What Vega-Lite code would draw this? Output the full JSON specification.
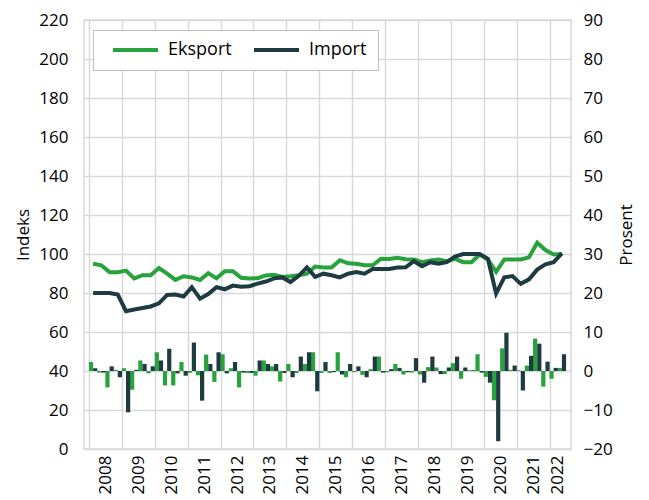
{
  "$schema": "https://vega.github.io/schema/vega-lite/v6.json",
  "width": 487,
  "height": 429,
  "autosize": {"type": "none"},
  "padding": {"left": 84, "top": 20, "right": 78, "bottom": 51},
  "config": {
    "font": "Open Sans",
    "view": {"stroke": "#d9d9d9", "strokeWidth": 1.5},
    "axis": {
      "labelFont": "Open Sans",
      "labelFontSize": 17,
      "labelColor": "#000000",
      "labelOverlap": false,
      "titleFont": "Open Sans",
      "titleFontSize": 17,
      "titleFontWeight": "normal",
      "titleColor": "#000000",
      "gridColor": "#d9d9d9",
      "gridWidth": 1.5,
      "domain": false,
      "ticks": false
    }
  },
  "data": {
    "values": [
      {"kvartal": "2008K1", "t": 2008.125, "eksport": 95.0, "import": 80.0, "eksport_endring": 2.3, "import_endring": 0.7},
      {"kvartal": "2008K2", "t": 2008.375, "eksport": 94.2, "import": 80.0, "eksport_endring": -0.4, "import_endring": -0.4},
      {"kvartal": "2008K3", "t": 2008.625, "eksport": 90.7, "import": 80.0, "eksport_endring": -4.2, "import_endring": 1.2},
      {"kvartal": "2008K4", "t": 2008.875, "eksport": 90.7, "import": 79.2, "eksport_endring": 0.3, "import_endring": -1.6},
      {"kvartal": "2009K1", "t": 2009.125, "eksport": 91.5, "import": 70.7, "eksport_endring": 0.7, "import_endring": -10.6},
      {"kvartal": "2009K2", "t": 2009.375, "eksport": 87.5, "import": 71.5, "eksport_endring": -4.8, "import_endring": 0.3},
      {"kvartal": "2009K3", "t": 2009.625, "eksport": 89.1, "import": 72.3, "eksport_endring": 2.7, "import_endring": 1.8},
      {"kvartal": "2009K4", "t": 2009.875, "eksport": 89.1, "import": 73.1, "eksport_endring": -0.6, "import_endring": 1.2},
      {"kvartal": "2010K1", "t": 2010.125, "eksport": 92.8, "import": 74.7, "eksport_endring": 4.8, "import_endring": 2.7},
      {"kvartal": "2010K2", "t": 2010.375, "eksport": 89.9, "import": 79.0, "eksport_endring": -3.7, "import_endring": 5.7},
      {"kvartal": "2010K3", "t": 2010.625, "eksport": 86.7, "import": 79.2, "eksport_endring": -3.7, "import_endring": -0.6},
      {"kvartal": "2010K4", "t": 2010.875, "eksport": 88.6, "import": 78.2, "eksport_endring": 2.3, "import_endring": -1.2},
      {"kvartal": "2011K1", "t": 2011.125, "eksport": 88.0, "import": 83.0, "eksport_endring": -0.5, "import_endring": 7.3},
      {"kvartal": "2011K2", "t": 2011.375, "eksport": 86.7, "import": 77.1, "eksport_endring": -1.1, "import_endring": -7.6},
      {"kvartal": "2011K3", "t": 2011.625, "eksport": 90.2, "import": 79.5, "eksport_endring": 4.2, "import_endring": 1.8},
      {"kvartal": "2011K4", "t": 2011.875, "eksport": 87.5, "import": 83.0, "eksport_endring": -2.8, "import_endring": 4.8},
      {"kvartal": "2012K1", "t": 2012.125, "eksport": 91.2, "import": 81.9, "eksport_endring": 4.3, "import_endring": -0.6},
      {"kvartal": "2012K2", "t": 2012.375, "eksport": 91.2, "import": 83.8, "eksport_endring": 0.7, "import_endring": 2.3},
      {"kvartal": "2012K3", "t": 2012.625, "eksport": 87.8, "import": 83.2, "eksport_endring": -4.2, "import_endring": -0.4},
      {"kvartal": "2012K4", "t": 2012.875, "eksport": 87.5, "import": 83.5, "eksport_endring": -0.5, "import_endring": -0.5},
      {"kvartal": "2013K1", "t": 2013.125, "eksport": 87.6, "import": 84.8, "eksport_endring": -1.2, "import_endring": 2.7},
      {"kvartal": "2013K2", "t": 2013.375, "eksport": 89.0, "import": 85.9, "eksport_endring": 2.7, "import_endring": 1.8},
      {"kvartal": "2013K3", "t": 2013.625, "eksport": 89.4, "import": 87.5, "eksport_endring": 1.2, "import_endring": 1.8},
      {"kvartal": "2013K4", "t": 2013.875, "eksport": 88.2, "import": 88.0, "eksport_endring": -2.7, "import_endring": -0.5},
      {"kvartal": "2014K1", "t": 2014.125, "eksport": 88.6, "import": 85.6, "eksport_endring": 1.8, "import_endring": -1.6},
      {"kvartal": "2014K2", "t": 2014.375, "eksport": 89.1, "import": 88.8, "eksport_endring": -0.5, "import_endring": 3.7},
      {"kvartal": "2014K3", "t": 2014.625, "eksport": 89.9, "import": 93.1, "eksport_endring": 1.8, "import_endring": 4.8},
      {"kvartal": "2014K4", "t": 2014.875, "eksport": 93.6, "import": 88.3, "eksport_endring": 4.8, "import_endring": -5.2},
      {"kvartal": "2015K1", "t": 2015.125, "eksport": 93.1, "import": 89.9, "eksport_endring": -0.5, "import_endring": 2.3},
      {"kvartal": "2015K2", "t": 2015.375, "eksport": 93.1, "import": 89.1, "eksport_endring": -0.5, "import_endring": -0.3},
      {"kvartal": "2015K3", "t": 2015.625, "eksport": 96.8, "import": 88.0, "eksport_endring": 4.8, "import_endring": -0.9},
      {"kvartal": "2015K4", "t": 2015.875, "eksport": 95.2, "import": 89.9, "eksport_endring": -1.6, "import_endring": 1.8},
      {"kvartal": "2016K1", "t": 2016.125, "eksport": 95.0, "import": 90.7, "eksport_endring": -0.3, "import_endring": 1.2},
      {"kvartal": "2016K2", "t": 2016.375, "eksport": 94.2, "import": 89.9, "eksport_endring": -1.0, "import_endring": -1.6},
      {"kvartal": "2016K3", "t": 2016.625, "eksport": 94.2, "import": 92.3, "eksport_endring": 0.5, "import_endring": 3.7},
      {"kvartal": "2016K4", "t": 2016.875, "eksport": 97.6, "import": 92.3, "eksport_endring": 3.7, "import_endring": -0.4},
      {"kvartal": "2017K1", "t": 2017.125, "eksport": 97.4, "import": 92.3, "eksport_endring": -0.3, "import_endring": 0.5},
      {"kvartal": "2017K2", "t": 2017.375, "eksport": 98.1, "import": 93.1, "eksport_endring": 1.8, "import_endring": 0.8},
      {"kvartal": "2017K3", "t": 2017.625, "eksport": 97.3, "import": 93.2, "eksport_endring": -0.9, "import_endring": -0.3},
      {"kvartal": "2017K4", "t": 2017.875, "eksport": 97.2, "import": 96.3, "eksport_endring": -0.4, "import_endring": 3.3},
      {"kvartal": "2018K1", "t": 2018.125, "eksport": 95.8, "import": 93.7, "eksport_endring": -0.9, "import_endring": -3.0},
      {"kvartal": "2018K2", "t": 2018.375, "eksport": 96.7, "import": 95.8, "eksport_endring": 1.0, "import_endring": 3.7},
      {"kvartal": "2018K3", "t": 2018.625, "eksport": 97.2, "import": 95.0, "eksport_endring": 0.9, "import_endring": -0.8},
      {"kvartal": "2018K4", "t": 2018.875, "eksport": 96.3, "import": 95.8, "eksport_endring": -0.8, "import_endring": 0.9},
      {"kvartal": "2019K1", "t": 2019.125, "eksport": 97.5, "import": 98.7, "eksport_endring": 2.0, "import_endring": 3.7},
      {"kvartal": "2019K2", "t": 2019.375, "eksport": 95.8, "import": 100.0, "eksport_endring": -2.0, "import_endring": 0.9},
      {"kvartal": "2019K3", "t": 2019.625, "eksport": 95.8, "import": 100.0, "eksport_endring": 0.2, "import_endring": 0.2},
      {"kvartal": "2019K4", "t": 2019.875, "eksport": 99.7, "import": 100.0, "eksport_endring": 4.3, "import_endring": -0.4},
      {"kvartal": "2020K1", "t": 2020.125, "eksport": 97.2, "import": 97.5, "eksport_endring": -1.5, "import_endring": -3.0},
      {"kvartal": "2020K2", "t": 2020.375, "eksport": 90.8, "import": 79.7, "eksport_endring": -7.5, "import_endring": -18.0},
      {"kvartal": "2020K3", "t": 2020.625, "eksport": 97.2, "import": 88.0, "eksport_endring": 5.8, "import_endring": 9.8},
      {"kvartal": "2020K4", "t": 2020.875, "eksport": 97.2, "import": 88.7, "eksport_endring": 0.3, "import_endring": 1.4},
      {"kvartal": "2021K1", "t": 2021.125, "eksport": 97.2, "import": 84.7, "eksport_endring": 0.2, "import_endring": -5.0},
      {"kvartal": "2021K2", "t": 2021.375, "eksport": 98.3, "import": 87.0, "eksport_endring": 1.4, "import_endring": 3.9},
      {"kvartal": "2021K3", "t": 2021.625, "eksport": 105.8, "import": 92.0, "eksport_endring": 8.3, "import_endring": 7.0},
      {"kvartal": "2021K4", "t": 2021.875, "eksport": 102.0, "import": 94.7, "eksport_endring": -4.0, "import_endring": 2.4},
      {"kvartal": "2022K1", "t": 2022.125, "eksport": 99.7, "import": 95.8, "eksport_endring": -2.0, "import_endring": 0.8},
      {"kvartal": "2022K2", "t": 2022.375, "eksport": 100.0, "import": 100.3, "eksport_endring": 0.8, "import_endring": 4.3}
    ]
  },
  "layer": [
    {
      "encoding": {
        "x": {
          "field": "t",
          "type": "quantitative",
          "scale": {"domain": [2008, 2022.5], "nice": false, "zero": false},
          "axis": {
            "orient": "bottom",
            "values": [2008, 2009, 2010, 2011, 2012, 2013, 2014, 2015, 2016, 2017, 2018, 2019, 2020, 2021, 2022],
            "grid": true,
            "labels": false,
            "title": null
          }
        }
      },
      "layer": [
        {
          "mark": {"type": "bar", "width": 4.2, "xOffset": -2.1, "color": "#27a23c"},
          "encoding": {
            "y": {
              "field": "eksport_endring",
              "type": "quantitative",
              "scale": {"domain": [-20, 90], "nice": false},
              "axis": {
                "orient": "right",
                "values": [-20, -10, 0, 10, 20, 30, 40, 50, 60, 70, 80, 90],
                "labelOverlap": false,
                "grid": false,
                "title": "Prosent",
                "titleAngle": -90,
                "titleBaseline": "top",
                "labelPadding": 12,
                "titlePadding": 6
              }
            }
          }
        },
        {
          "mark": {"type": "bar", "width": 4.2, "xOffset": 2.1, "color": "#1f3b42"},
          "encoding": {
            "y": {
              "field": "import_endring",
              "type": "quantitative",
              "scale": {"domain": [-20, 90], "nice": false},
              "axis": {
                "orient": "right",
                "values": [-20, -10, 0, 10, 20, 30, 40, 50, 60, 70, 80, 90],
                "labelOverlap": false,
                "grid": false,
                "title": "Prosent",
                "titleAngle": -90,
                "titleBaseline": "top",
                "labelPadding": 12,
                "titlePadding": 6
              }
            }
          }
        }
      ]
    },
    {
      "encoding": {
        "x": {
          "field": "t",
          "type": "quantitative",
          "scale": {"domain": [2008, 2022.5], "nice": false, "zero": false},
          "axis": {
            "orient": "bottom",
            "values": [2008.5, 2009.5, 2010.5, 2011.5, 2012.5, 2013.5, 2014.5, 2015.5, 2016.5, 2017.5, 2018.5, 2019.5, 2020.5, 2021.5, 2022.25],
            "labelExpr": "'' + floor(datum.value)",
            "labelAngle": -90,
            "labelPadding": 6,
            "grid": false,
            "title": null
          }
        }
      },
      "layer": [
        {
          "mark": {"type": "line", "strokeWidth": 4, "strokeJoin": "miter"},
          "encoding": {
            "y": {
              "field": "eksport",
              "type": "quantitative",
              "scale": {"domain": [0, 220], "nice": false},
              "axis": {
                "orient": "left",
                "values": [0, 20, 40, 60, 80, 100, 120, 140, 160, 180, 200, 220],
                "labelOverlap": false,
                "grid": true,
                "title": "Indeks",
                "labelPadding": 16,
                "titlePadding": 6
              }
            },
            "color": {
              "datum": "Eksport",
              "scale": {"domain": ["Eksport", "Import"], "range": ["#27a23c", "#1f3b42"]},
              "legend": {
                "orient": "none",
                "legendX": 9,
                "legendY": 10,
                "direction": "horizontal",
                "title": null,
                "padding": 11,
                "strokeColor": "#bfbfbf",
                "fillColor": "#ffffff",
                "symbolType": "M0,0H10",
                "symbolSize": 81,
                "symbolStrokeWidth": 4,
                "labelFont": "Open Sans",
                "labelFontSize": 18,
                "labelColor": "#000000",
                "labelOffset": 46,
                "columnPadding": 13
              }
            }
          }
        },
        {
          "mark": {"type": "line", "strokeWidth": 4, "strokeJoin": "miter"},
          "encoding": {
            "y": {
              "field": "import",
              "type": "quantitative",
              "scale": {"domain": [0, 220], "nice": false},
              "axis": {
                "orient": "left",
                "values": [0, 20, 40, 60, 80, 100, 120, 140, 160, 180, 200, 220],
                "labelOverlap": false,
                "grid": true,
                "title": "Indeks",
                "labelPadding": 16,
                "titlePadding": 6
              }
            },
            "color": {"datum": "Import"}
          }
        }
      ]
    }
  ],
  "resolve": {
    "scale": {"y": "independent"},
    "axis": {"x": "independent", "y": "independent"}
  }
}
